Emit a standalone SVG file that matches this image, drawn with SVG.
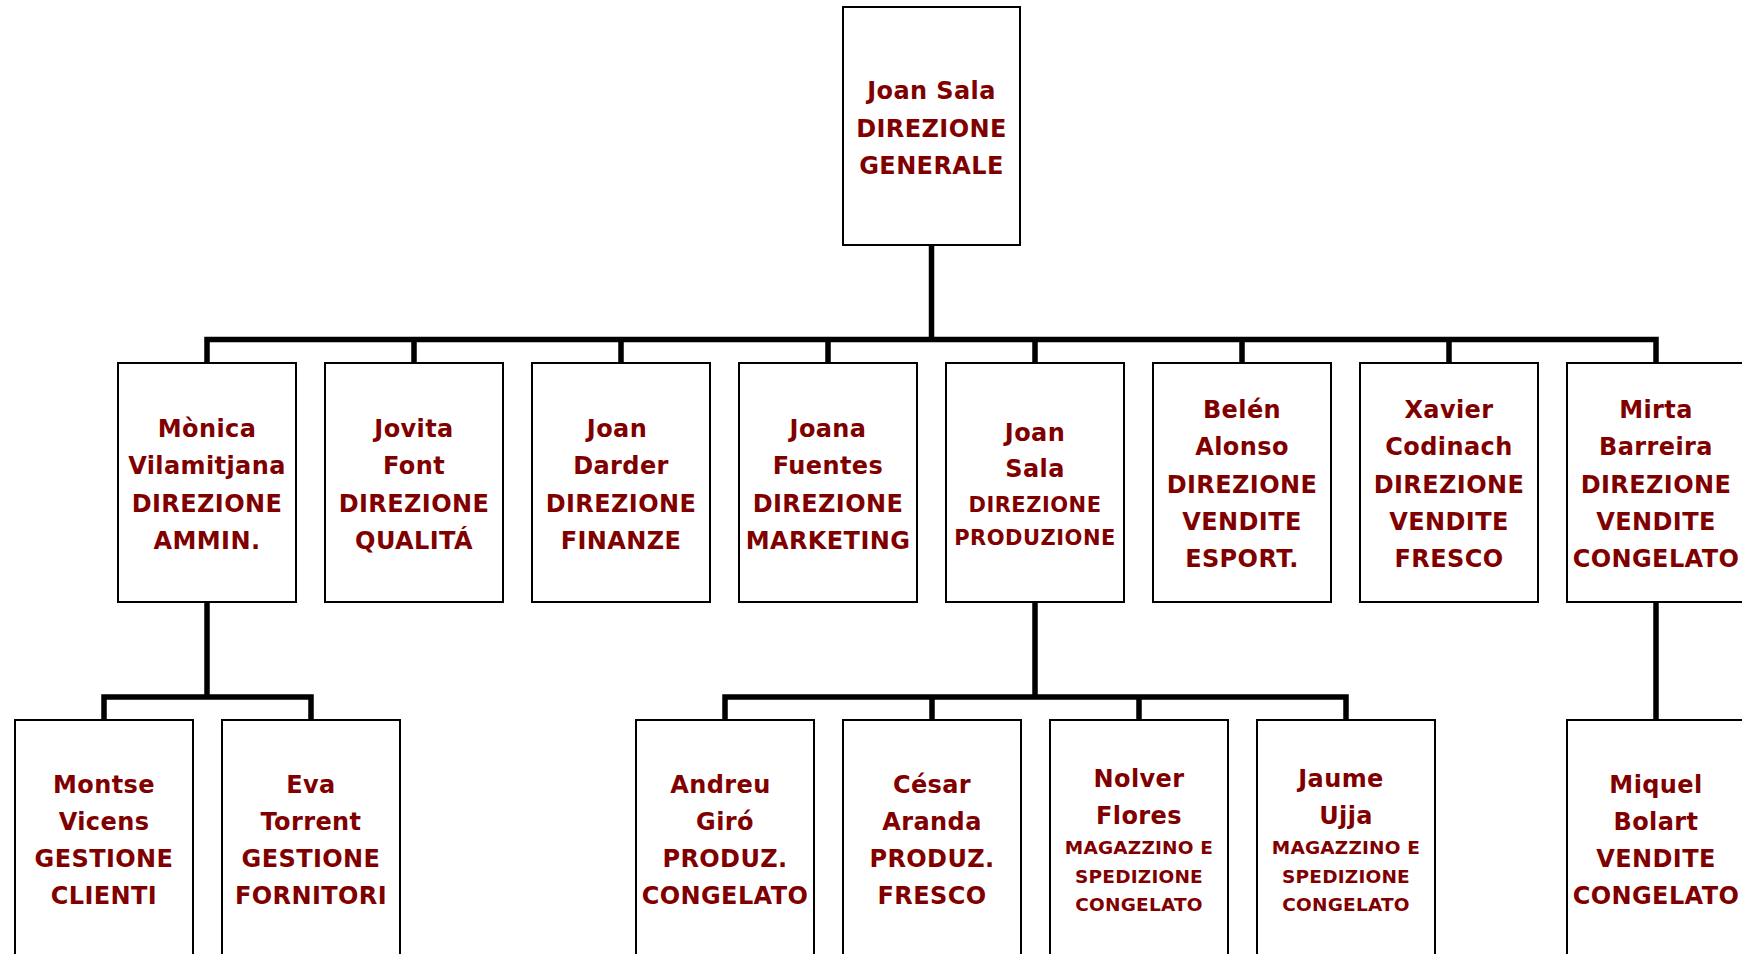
<svg xmlns="http://www.w3.org/2000/svg" width="1742" height="954" viewBox="0 0 1742 954">
<style>
.box{fill:#ffffff;stroke:#000000;stroke-width:2}
.t{font-family:"DejaVu Sans","Verdana",sans-serif;font-weight:bold;font-size:24px;letter-spacing:0.4px;fill:#800000;text-anchor:middle}
.s{font-size:21px;letter-spacing:0.5px}
.xs{font-size:18.5px;letter-spacing:0.2px}
.c{fill:none;stroke:#000000;stroke-width:5.5;stroke-linejoin:miter;stroke-linecap:butt}
</style>
<rect width="1742" height="954" fill="#ffffff"/>
<g id="connectors">
<path class="c" d="M931.5 245 V339.5"/>
<path class="c" d="M207 363 V339.5 H1656 V363"/>
<path class="c" d="M414 339.5 V363 M621 339.5 V363 M828 339.5 V363 M1035 339.5 V363 M1242 339.5 V363 M1449 339.5 V363"/>
<path class="c" d="M207 602 V697"/>
<path class="c" d="M104 720 V697 H311 V720"/>
<path class="c" d="M1035 602 V697"/>
<path class="c" d="M725 720 V697 H1346 V720 M932 697 V720 M1139 697 V720"/>
<path class="c" d="M1656 602 V720"/>
</g>
<g id="n-root"><rect class="box" x="843" y="7" width="177" height="238"/>
<text class="t" x="931.5" y="99">Joan Sala</text><text class="t" x="931.5" y="136.5">DIREZIONE</text><text class="t" x="931.5" y="174">GENERALE</text></g>
<g id="n-monica"><rect class="box" x="118" y="363" width="178" height="239"/>
<text class="t" x="207" y="437">Mònica</text><text class="t" x="207" y="474.3">Vilamitjana</text><text class="t" x="207" y="511.7">DIREZIONE</text><text class="t" x="207" y="549">AMMIN.</text></g>
<g id="n-jovita"><rect class="box" x="325" y="363" width="178" height="239"/>
<text class="t" x="414" y="437">Jovita</text><text class="t" x="414" y="474.3">Font</text><text class="t" x="414" y="511.7">DIREZIONE</text><text class="t" x="414" y="549">QUALITÁ</text></g>
<g id="n-darder"><rect class="box" x="532" y="363" width="178" height="239"/>
<text class="t" x="617" y="437">Joan</text><text class="t" x="621" y="474.3">Darder</text><text class="t" x="621" y="511.7">DIREZIONE</text><text class="t" x="621" y="549">FINANZE</text></g>
<g id="n-joana"><rect class="box" x="739" y="363" width="178" height="239"/>
<text class="t" x="828" y="437">Joana</text><text class="t" x="828" y="474.3">Fuentes</text><text class="t" x="828" y="511.7">DIREZIONE</text><text class="t" x="828" y="549">MARKETING</text></g>
<g id="n-sala-prod"><rect class="box" x="946" y="363" width="178" height="239"/>
<text class="t" x="1035" y="440.7">Joan</text><text class="t" x="1035" y="477">Sala</text><text class="t s" x="1035" y="512">DIREZIONE</text><text class="t s" x="1035" y="545">PRODUZIONE</text></g>
<g id="n-belen"><rect class="box" x="1153" y="363" width="178" height="239"/>
<text class="t" x="1242" y="418">Belén</text><text class="t" x="1242" y="455">Alonso</text><text class="t" x="1242" y="492.5">DIREZIONE</text><text class="t" x="1242" y="530">VENDITE</text><text class="t" x="1242" y="567">ESPORT.</text></g>
<g id="n-xavier"><rect class="box" x="1360" y="363" width="178" height="239"/>
<text class="t" x="1449" y="418">Xavier</text><text class="t" x="1449" y="455">Codinach</text><text class="t" x="1449" y="492.5">DIREZIONE</text><text class="t" x="1449" y="530">VENDITE</text><text class="t" x="1449" y="567">FRESCO</text></g>
<g id="n-mirta"><rect class="box" x="1567" y="363" width="178" height="239"/>
<text class="t" x="1656" y="418">Mirta</text><text class="t" x="1656" y="455">Barreira</text><text class="t" x="1656" y="492.5">DIREZIONE</text><text class="t" x="1656" y="530">VENDITE</text><text class="t" x="1656" y="567">CONGELATO</text></g>
<g id="n-montse"><rect class="box" x="15" y="720" width="178" height="260"/>
<text class="t" x="104" y="792.7">Montse</text><text class="t" x="104" y="829.5">Vicens</text><text class="t" x="104" y="867">GESTIONE</text><text class="t" x="104" y="904">CLIENTI</text></g>
<g id="n-eva"><rect class="box" x="222" y="720" width="178" height="260"/>
<text class="t" x="311" y="792.7">Eva</text><text class="t" x="311" y="829.5">Torrent</text><text class="t" x="311" y="867">GESTIONE</text><text class="t" x="311" y="904">FORNITORI</text></g>
<g id="n-andreu"><rect class="box" x="636" y="720" width="178" height="260"/>
<text class="t" x="720.5" y="792.7">Andreu</text><text class="t" x="725" y="829.5">Giró</text><text class="t" x="725" y="867">PRODUZ.</text><text class="t" x="725" y="904">CONGELATO</text></g>
<g id="n-cesar"><rect class="box" x="843" y="720" width="178" height="260"/>
<text class="t" x="932" y="792.7">César</text><text class="t" x="932" y="829.5">Aranda</text><text class="t" x="932" y="867">PRODUZ.</text><text class="t" x="932" y="904">FRESCO</text></g>
<g id="n-nolver"><rect class="box" x="1050" y="720" width="178" height="260"/>
<text class="t" x="1139" y="787">Nolver</text><text class="t" x="1139" y="824">Flores</text><text class="t xs" x="1139" y="854">MAGAZZINO E</text><text class="t xs" x="1139" y="882.7">SPEDIZIONE</text><text class="t xs" x="1139" y="911">CONGELATO</text></g>
<g id="n-jaume"><rect class="box" x="1257" y="720" width="178" height="260"/>
<text class="t" x="1341" y="787">Jaume</text><text class="t" x="1346" y="824">Ujja</text><text class="t xs" x="1346" y="854">MAGAZZINO E</text><text class="t xs" x="1346" y="882.7">SPEDIZIONE</text><text class="t xs" x="1346" y="911">CONGELATO</text></g>
<g id="n-miquel"><rect class="box" x="1567" y="720" width="178" height="260"/>
<text class="t" x="1656" y="792.7">Miquel</text><text class="t" x="1656" y="829.5">Bolart</text><text class="t" x="1656" y="867">VENDITE</text><text class="t" x="1656" y="904">CONGELATO</text></g>
</svg>
